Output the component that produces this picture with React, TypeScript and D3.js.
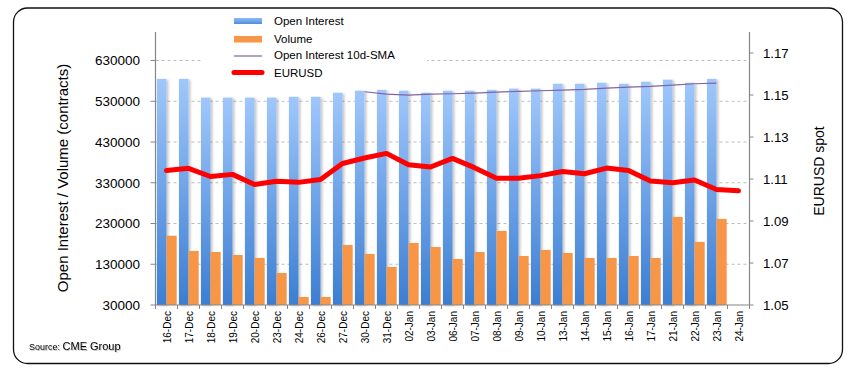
import React from "react";
import * as d3 from "d3";

const categories = ["16-Dec","17-Dec","18-Dec","19-Dec","20-Dec","23-Dec","24-Dec","26-Dec","27-Dec","30-Dec","31-Dec","02-Jan","03-Jan","06-Jan","07-Jan","08-Jan","09-Jan","10-Jan","13-Jan","14-Jan","15-Jan","16-Jan","17-Jan","21-Jan","22-Jan","23-Jan","24-Jan"];
const openInterest: (number | null)[] = [585000,585000,539000,539000,539000,539000,541000,541000,551000,556000,558000,556000,551000,556000,556000,558000,561000,561000,573000,573000,575500,573000,578000,583000,575500,585000,null];
const volume: (number | null)[] = [200000,162700,160200,152900,145500,108600,49700,49700,177400,155300,123400,182300,172500,143000,160200,211800,150400,165100,157800,145500,145500,150400,145500,246200,184800,241300,null];
const oiSma: (number | null)[] = [null,null,null,null,null,null,null,null,null,553300,547700,545200,547700,548400,550100,552600,554100,555800,557500,559000,562400,564900,566400,569800,573000,574700,null];
const eurusd: number[] = [1.1141,1.1151,1.1112,1.1122,1.1074,1.1089,1.1084,1.1098,1.1174,1.1200,1.1222,1.1168,1.1157,1.1198,1.1154,1.1104,1.1104,1.1116,1.1136,1.1125,1.1152,1.1140,1.1090,1.1082,1.1095,1.1050,1.1044];
const leftTicks = [30000,130000,230000,330000,430000,530000,630000];
const rightTicks = [1.05,1.07,1.09,1.11,1.13,1.15,1.17];

const FONT = "'Liberation Sans', Arial, sans-serif";

export default function App() {
  const W = 855, H = 377;
  const plotL = 155.5, plotR = 749.5, plotT = 32, plotB = 305;
  const x = d3.scaleBand<string>().domain(categories).range([plotL, plotR]).padding(0);
  const yL = d3.scaleLinear().domain([30000, 700000]).range([plotB, plotT]);
  const yR = d3.scaleLinear().domain([1.05, 1.18]).range([plotB, plotT]);
  const bw = x.bandwidth();

  const fxLine = d3.line<number>()
    .x((_, i) => (x(categories[i]) as number) + bw / 2)
    .y((d) => yR(d));
  const smaLine = d3.line<number | null>()
    .defined((d) => d != null)
    .x((_, i) => (x(categories[i]) as number) + bw / 2)
    .y((d) => yL(d as number));

  const axisColor = "#868686";

  return (
    <svg width={W} height={H} style={{ position: "absolute", left: 0, top: 0, background: "#fff" }} fontFamily={FONT}>
      <defs>
        <linearGradient id="oiGrad" x1="0" y1="0" x2="0" y2="1">
          <stop offset="0" stopColor="#a0c7fc" />
          <stop offset="1" stopColor="#3b7ed2" />
        </linearGradient>
        <linearGradient id="oiGradH" x1="0" y1="0" x2="0" y2="1">
          <stop offset="0" stopColor="#8fbaf4" />
          <stop offset="1" stopColor="#4f8ee0" />
        </linearGradient>
        <filter id="barShadow" x="-30%" y="-5%" width="170%" height="115%">
          <feDropShadow dx="2" dy="1" stdDeviation="1" floodColor="#000" floodOpacity="0.22" />
        </filter>
        <filter id="txtShadow" x="-5%" y="-20%" width="110%" height="150%">
          <feDropShadow dx="1" dy="1" stdDeviation="0.6" floodColor="#000" floodOpacity="0.25" />
        </filter>
      </defs>

      {/* outer border */}
      <rect x={13.5} y={8} width={829} height={355.5} rx={14} fill="#fff" stroke="#111" strokeWidth={1.3} />

      {/* gridlines */}
      {leftTicks.filter((t) => t !== 30000).map((t) => (
        <line key={"g" + t} x1={plotL} x2={plotR} y1={yL(t)} y2={yL(t)} stroke="#bdbdbd" strokeWidth={1} strokeDasharray="3,3" />
      ))}

      {/* bars */}
      {categories.map((c, i) => {
        const x0 = x(c) as number;
        const oi = openInterest[i];
        const v = volume[i];
        return (
          <g key={"b" + c}>
            {oi != null && (
              <rect x={x0 + 1.4} y={yL(oi)} width={9.6} height={plotB - yL(oi)} fill="url(#oiGrad)" filter="url(#barShadow)" />
            )}
            {v != null && (
              <rect x={x0 + 11} y={yL(v)} width={10.2} height={plotB - yL(v)} fill="#f79646" />
            )}
          </g>
        );
      })}

      {/* SMA line */}
      <path d={smaLine(oiSma) || ""} fill="none" stroke="#8064a2" strokeWidth={1.2} />

      {/* EURUSD line */}
      <path d={fxLine(eurusd) || ""} fill="none" stroke="#ff0000" strokeWidth={5} strokeLinejoin="round" strokeLinecap="round" />

      {/* legend */}
      <rect x={202} y={9} width={225} height={73} fill="#fff" />
      <g fontSize={11.5} fill="#000">
        <rect x={234} y={18} width={28} height={6} fill="url(#oiGradH)" />
        <text x={274} y={24.5}>Open Interest</text>
        <rect x={234} y={36} width={28} height={6.5} fill="#f79646" />
        <text x={274} y={42.5}>Volume</text>
        <line x1={234} x2={262} y1={56} y2={56} stroke="#8064a2" strokeWidth={1.2} />
        <text x={274} y={59}>Open Interest 10d-SMA</text>
        <line x1={234} x2={262} y1={72.5} y2={72.5} stroke="#ff0000" strokeWidth={5} strokeLinecap="round" />
        <text x={274} y={76.5}>EURUSD</text>
      </g>

      {/* left axis */}
      <line x1={plotL} x2={plotL} y1={plotT} y2={plotB} stroke={axisColor} strokeWidth={1.2} />
      {leftTicks.map((t) => (
        <g key={"lt" + t}>
          <line x1={plotL - 5} x2={plotL} y1={yL(t)} y2={yL(t)} stroke={axisColor} />
          <text x={140} y={yL(t)} dy="0.36em" textAnchor="end" fontSize={13.5} fill="#000">{t}</text>
        </g>
      ))}
      <text transform={`translate(62,178) rotate(-90)`} textAnchor="middle" dominantBaseline="central" fontSize={15} fill="#000">
        Open Interest / Volume (contracts)
      </text>

      {/* right axis */}
      <line x1={plotR} x2={plotR} y1={plotT} y2={plotB} stroke={axisColor} strokeWidth={1.2} />
      {rightTicks.map((t) => (
        <g key={"rt" + t}>
          <line x1={plotR} x2={plotR + 4} y1={yR(t)} y2={yR(t)} stroke={axisColor} />
          <text x={763} y={yR(t)} dy="0.36em" textAnchor="start" fontSize={13.2} fill="#000">{t.toFixed(2)}</text>
        </g>
      ))}
      <text transform={`translate(819,171) rotate(-90)`} textAnchor="middle" dominantBaseline="central" fontSize={14} fill="#000">
        EURUSD spot
      </text>

      {/* x axis */}
      <line x1={plotL} x2={plotR} y1={plotB} y2={plotB} stroke={axisColor} strokeWidth={1.2} />
      {categories.map((c) => (
        <line key={"xt" + c} x1={x(c) as number} x2={x(c) as number} y1={plotB} y2={plotB + 4} stroke={axisColor} />
      ))}
      <line x1={plotR} x2={plotR} y1={plotB} y2={plotB + 4} stroke={axisColor} />
      {categories.map((c) => (
        <text key={"xl" + c} transform={`translate(${(x(c) as number) + bw / 2 + 1},311) rotate(-90)`} textAnchor="end" dominantBaseline="central" fontSize={10} fill="#000">
          {c}
        </text>
      ))}

      {/* source */}
      <text x={29} y={350} fill="#000" filter="url(#txtShadow)">
        <tspan fontSize={9}>Source: </tspan>
        <tspan fontSize={11}>CME Group</tspan>
      </text>
    </svg>
  );
}
